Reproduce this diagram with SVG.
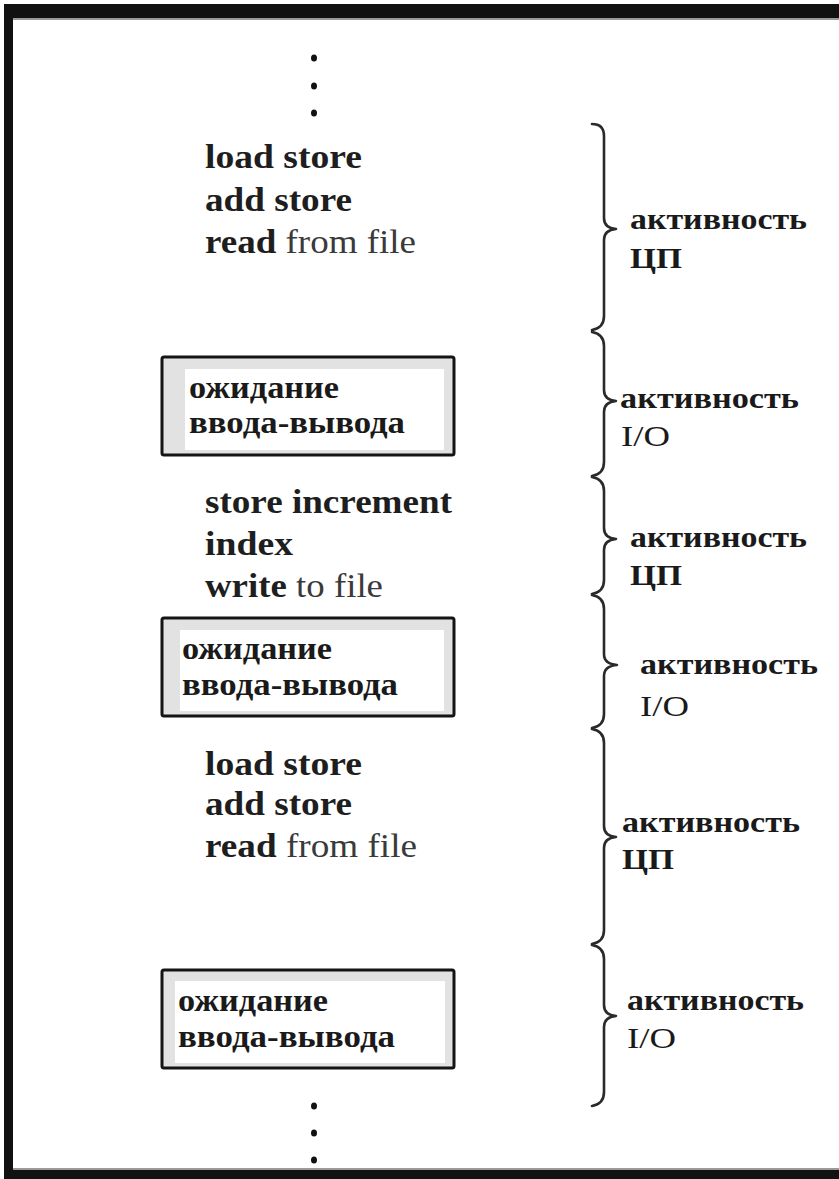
<svg xmlns="http://www.w3.org/2000/svg" width="839" height="1179" viewBox="0 0 839 1179">
<style>
.code{font-family:"Liberation Serif","Times New Roman",serif;font-size:33px;fill:#1e1e1e;}
.b{font-weight:bold;}
.r{font-weight:normal;fill:#3a3a3a;}
.box{fill:#e2e2e2;stroke:#141414;stroke-width:3;}
.inner{fill:#ffffff;stroke:none;}
.bt{font-family:"Liberation Serif","Times New Roman",serif;font-size:32px;font-weight:bold;fill:#1a1a1a;}
.lab{font-family:"Liberation Serif","Times New Roman",serif;font-size:30px;font-weight:bold;fill:#1a1a1a;}
.lab2{font-family:"Liberation Serif","Times New Roman",serif;font-size:29px;font-weight:normal;fill:#1a1a1a;}
.brace{fill:none;stroke:#2a2a2a;stroke-width:2.6;stroke-linecap:round;stroke-linejoin:round;}
.dot{fill:#111;}
</style>
<rect x="0" y="0" width="839" height="1179" fill="#ffffff"/>
<g id="frame">
<rect x="4" y="4" width="835" height="14" fill="#111"/>
<rect x="4" y="4" width="9" height="1175" fill="#111"/>
<rect x="4" y="1170" width="835" height="9" fill="#111"/>
<rect x="13" y="18" width="826" height="2" fill="#9a9a9a"/>
<rect x="13" y="1168" width="826" height="2" fill="#9a9a9a"/>
</g>
<g id="dots-top">
<ellipse class="dot" cx="314" cy="58" rx="3" ry="3.5"/>
<ellipse class="dot" cx="314" cy="86" rx="3" ry="3.5"/>
<ellipse class="dot" cx="314" cy="113" rx="3" ry="3.5"/>
</g>
<g id="code1">
<text class="code b" x="205" y="168" textLength="157" lengthAdjust="spacingAndGlyphs">load store</text>
<text class="code b" x="205" y="211" textLength="147" lengthAdjust="spacingAndGlyphs">add store</text>
<text class="code" x="205" y="253" textLength="211" lengthAdjust="spacingAndGlyphs"><tspan class="b">read</tspan><tspan class="r"> from file</tspan></text>
</g>
<g id="box1">
<rect class="box" x="162" y="357" width="292" height="98" rx="2"/>
<rect class="inner" x="185" y="369" width="259" height="81"/>
<text class="bt" x="189" y="398" textLength="150" lengthAdjust="spacingAndGlyphs">ожидание</text>
<text class="bt" x="189" y="433" textLength="216" lengthAdjust="spacingAndGlyphs">ввода-вывода</text>
</g>
<g id="code2">
<text class="code b" x="205" y="513" textLength="247" lengthAdjust="spacingAndGlyphs">store increment</text>
<text class="code b" x="205" y="555" textLength="88" lengthAdjust="spacingAndGlyphs">index</text>
<text class="code" x="205" y="597" textLength="178" lengthAdjust="spacingAndGlyphs"><tspan class="b">write</tspan><tspan class="r"> to file</tspan></text>
</g>
<g id="box2">
<rect class="box" x="162" y="618" width="292" height="98" rx="2"/>
<rect class="inner" x="180" y="630" width="264" height="81"/>
<text class="bt" x="182" y="659" textLength="150" lengthAdjust="spacingAndGlyphs">ожидание</text>
<text class="bt" x="182" y="695" textLength="216" lengthAdjust="spacingAndGlyphs">ввода-вывода</text>
</g>
<g id="code3">
<text class="code b" x="205" y="775" textLength="157" lengthAdjust="spacingAndGlyphs">load store</text>
<text class="code b" x="205" y="815" textLength="147" lengthAdjust="spacingAndGlyphs">add store</text>
<text class="code" x="205" y="857" textLength="212" lengthAdjust="spacingAndGlyphs"><tspan class="b">read</tspan><tspan class="r"> from file</tspan></text>
</g>
<g id="box3">
<rect class="box" x="162" y="970" width="292" height="98" rx="2"/>
<rect class="inner" x="175" y="981" width="270" height="82"/>
<text class="bt" x="178" y="1011" textLength="150" lengthAdjust="spacingAndGlyphs">ожидание</text>
<text class="bt" x="178" y="1047" textLength="217" lengthAdjust="spacingAndGlyphs">ввода-вывода</text>
</g>
<g id="dots-bottom">
<ellipse class="dot" cx="314" cy="1106" rx="3" ry="3.5"/>
<ellipse class="dot" cx="314" cy="1133" rx="3" ry="3.5"/>
<ellipse class="dot" cx="314" cy="1160" rx="3" ry="3.5"/>
</g>
<g id="connectors">
<path class="brace" d="M592,124 Q604,124 604,136 L604,218 Q604,228 616,229 Q604,230 604,240 L604,316 Q604,328 592,330"/>
<path class="brace" d="M592,332 Q604,334 604,346 L604,390 Q604,400 616,401 Q604,402 604,412 L604,462 Q604,474 592,476"/>
<path class="brace" d="M592,477 Q604,479 604,491 L604,528 Q604,538 616,539 Q604,540 604,550 L604,580 Q604,592 592,594"/>
<path class="brace" d="M592,595 Q604,597 604,609 L604,654 Q604,664 617,665 Q604,666 604,676 L604,714 Q604,726 592,728"/>
<path class="brace" d="M592,729 Q604,731 604,743 L604,826 Q604,836 616,837 Q604,838 604,848 L604,930 Q604,942 592,944"/>
<path class="brace" d="M592,945 Q604,947 604,959 L604,1005 Q604,1015 616,1016 Q604,1017 604,1027 L604,1092 Q604,1104 592,1106"/>
</g>
<g id="label1">
<text class="lab" x="630" y="229" textLength="177" lengthAdjust="spacingAndGlyphs">активность</text>
<text class="lab" x="630" y="268" textLength="52" lengthAdjust="spacingAndGlyphs">ЦП</text>
</g>
<g id="label2">
<text class="lab" x="620" y="408" textLength="179" lengthAdjust="spacingAndGlyphs">активность</text>
<text class="lab2" x="621" y="446" textLength="49" lengthAdjust="spacingAndGlyphs">I/O</text>
</g>
<g id="label3">
<text class="lab" x="630" y="547" textLength="177" lengthAdjust="spacingAndGlyphs">активность</text>
<text class="lab" x="630" y="585" textLength="52" lengthAdjust="spacingAndGlyphs">ЦП</text>
</g>
<g id="label4">
<text class="lab" x="640" y="674" textLength="178" lengthAdjust="spacingAndGlyphs">активность</text>
<text class="lab2" x="640" y="716" textLength="49" lengthAdjust="spacingAndGlyphs">I/O</text>
</g>
<g id="label5">
<text class="lab" x="622" y="832" textLength="178" lengthAdjust="spacingAndGlyphs">активность</text>
<text class="lab" x="622" y="869" textLength="52" lengthAdjust="spacingAndGlyphs">ЦП</text>
</g>
<g id="label6">
<text class="lab" x="627" y="1010" textLength="177" lengthAdjust="spacingAndGlyphs">активность</text>
<text class="lab2" x="627" y="1048" textLength="49" lengthAdjust="spacingAndGlyphs">I/O</text>
</g>
</svg>
